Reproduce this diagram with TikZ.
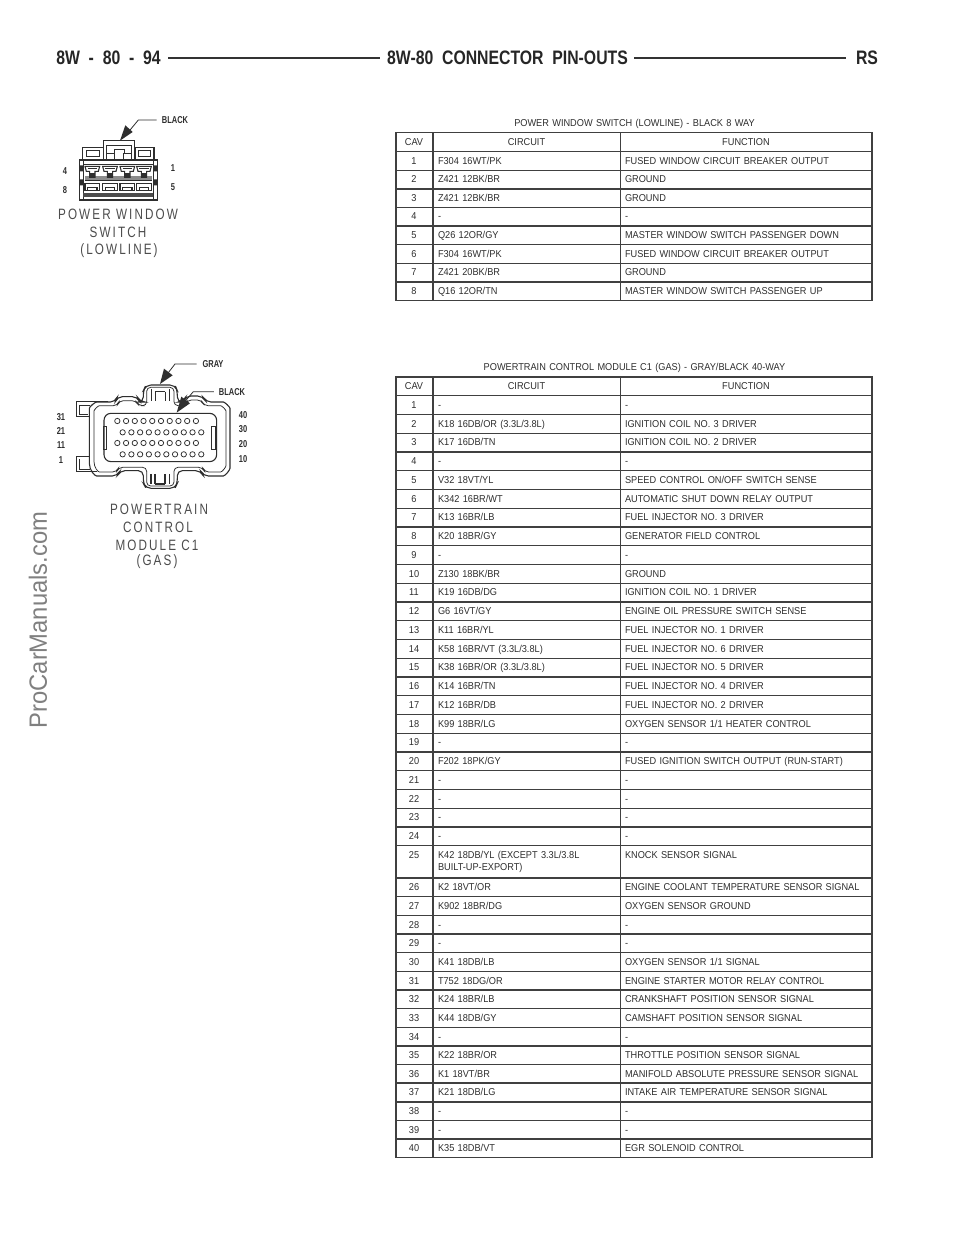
\documentclass[tikz,border=0pt]{standalone}
\usepackage{fontspec}
\setmainfont{Liberation Sans}
\newfontfamily\tabfont[FakeStretch=0.92,WordSpace=1.3]{Liberation Sans}
\newfontfamily\headfont[FakeStretch=0.81,WordSpace=2]{Liberation Sans}
\newfontfamily\wmfont[FakeStretch=0.95]{Liberation Sans}
\newfontfamily\dwgfont[FakeStretch=0.78,LetterSpace=14]{Liberation Sans}
\newfontfamily\calloutfont[FakeStretch=0.75]{Liberation Sans}
\definecolor{ink}{gray}{0.18}
\tikzset{
  every node/.style={inner sep=0pt,outer sep=0pt,text=ink},
  cell/.style={font=\tabfont\fontsize{10}{12}\selectfont,anchor=base west},
  cavcell/.style={font=\tabfont\fontsize{10}{12}\selectfont,anchor=base},
  tabletitle/.style={font=\tabfont\fontsize{10}{12}\selectfont,anchor=base},
  rule/.style={line width=1.4pt,draw=black!75},
  headtext/.style={font=\headfont\bfseries\fontsize{19.5}{22}\selectfont,anchor=base,text=black!85},
  headrule/.style={line width=2.6pt,draw=black!80},
  dwgtitle/.style={font=\dwgfont\fontsize{15}{17}\selectfont,text=black!70},
  pinnum/.style={font=\calloutfont\bfseries\fontsize{10}{12}\selectfont},
  callout/.style={font=\calloutfont\bfseries\fontsize{10}{12}\selectfont},
  dw/.style={line width=0.75pt,draw=ink},
  dwthick/.style={line width=1.1pt,draw=ink},
  leader/.style={line width=0.8pt,draw=ink},
  wedge/.style={fill=ink,draw=none}
}
% table 1 row: cav, circuit, function
\newcommand{\RowA}[3]{%
  \pgfmathsetmacro{\ya}{164.0+(#1-1)*18.6}%
  \node[cavcell] (ac#1) at (414,\ya) {#1};
  \node[cell] (ab#1) at (438,\ya) {#2};
  \node[cell] (af#1) at (625,\ya) {#3};
}
% table 2 row
\newcommand{\RowB}[3]{%
  \pgfmathparse{#1<25 ? 408.4+(#1-1)*18.75 : 890.8+(#1-26)*18.65}\let\yb\pgfmathresult
  \node[cavcell] (bc#1) at (414,\yb) {#1};
  \node[cell] (bb#1) at (438,\yb) {#2};
  \node[cell] (bf#1) at (625,\yb) {#3};
}
\begin{document}
\begin{tikzpicture}[x=1pt,y=-1pt]
\useasboundingbox[fill=white] (0,0) rectangle (960,1242);

% page header
\node[headtext] (h1) at (108.5,64) {8W - 80 - 94};
\node[headtext] (h2) at (507.5,64) {8W-80 CONNECTOR PIN-OUTS};
\node[headtext] (h3) at (867,64) {RS};
\draw[headrule] (168,58) -- (380,58);
\draw[headrule] (634,58) -- (846,58);

% watermark
\node[font=\wmfont\fontsize{25}{27}\selectfont,text=black!50,rotate=90] (wm) at (38,620) {ProCarManuals.com};

% ---------- table 1 ----------
\node[tabletitle] (t1) at (634.5,126.5) {POWER WINDOW SWITCH (LOWLINE) - BLACK 8 WAY};
\draw[rule] (396,132.3) rectangle (872,300.5);
\draw[rule] (433,132.3) -- (433,300.5);
\draw[rule] (620.5,132.3) -- (620.5,300.5);
\draw[rule] (396,151.7) -- (872,151.7);
\foreach \k in {1,...,7} \draw[rule] (396,151.7+\k*18.6) -- (872,151.7+\k*18.6);
\node[cavcell] (ah1) at (414,145) {CAV};
\node[cavcell] (ah2) at (526.5,145) {CIRCUIT};
\node[cavcell] (ah3) at (746,145) {FUNCTION};
\RowA{1}{F304 16WT/PK}{FUSED WINDOW CIRCUIT BREAKER OUTPUT}
\RowA{2}{Z421 12BK/BR}{GROUND}
\RowA{3}{Z421 12BK/BR}{GROUND}
\RowA{4}{-}{-}
\RowA{5}{Q26 12OR/GY}{MASTER WINDOW SWITCH PASSENGER DOWN}
\RowA{6}{F304 16WT/PK}{FUSED WINDOW CIRCUIT BREAKER OUTPUT}
\RowA{7}{Z421 20BK/BR}{GROUND}
\RowA{8}{Q16 12OR/TN}{MASTER WINDOW SWITCH PASSENGER UP}

% ---------- table 2 ----------
\node[tabletitle] (t2) at (634.5,370.5) {POWERTRAIN CONTROL MODULE C1 (GAS) - GRAY/BLACK 40-WAY};
\draw[rule] (396,377) rectangle (872,1157.7);
\draw[rule] (433,377) -- (433,1157.7);
\draw[rule] (620.5,377) -- (620.5,1157.7);
\foreach \k in {0,...,24} \draw[rule] (396,395.7+\k*18.75) -- (872,395.7+\k*18.75);
\foreach \k in {0,...,14} \draw[rule] (396,878+\k*18.65) -- (872,878+\k*18.65);
\node[cavcell] (bh1) at (414,389.5) {CAV};
\node[cavcell] (bh2) at (526.5,389.5) {CIRCUIT};
\node[cavcell] (bh3) at (746,389.5) {FUNCTION};
\RowB{1}{-}{-}
\RowB{2}{K18 16DB/OR (3.3L/3.8L)}{IGNITION COIL NO. 3 DRIVER}
\RowB{3}{K17 16DB/TN}{IGNITION COIL NO. 2 DRIVER}
\RowB{4}{-}{-}
\RowB{5}{V32 18VT/YL}{SPEED CONTROL ON/OFF SWITCH SENSE}
\RowB{6}{K342 16BR/WT}{AUTOMATIC SHUT DOWN RELAY OUTPUT}
\RowB{7}{K13 16BR/LB}{FUEL INJECTOR NO. 3 DRIVER}
\RowB{8}{K20 18BR/GY}{GENERATOR FIELD CONTROL}
\RowB{9}{-}{-}
\RowB{10}{Z130 18BK/BR}{GROUND}
\RowB{11}{K19 16DB/DG}{IGNITION COIL NO. 1 DRIVER}
\RowB{12}{G6 16VT/GY}{ENGINE OIL PRESSURE SWITCH SENSE}
\RowB{13}{K11 16BR/YL}{FUEL INJECTOR NO. 1 DRIVER}
\RowB{14}{K58 16BR/VT (3.3L/3.8L)}{FUEL INJECTOR NO. 6 DRIVER}
\RowB{15}{K38 16BR/OR (3.3L/3.8L)}{FUEL INJECTOR NO. 5 DRIVER}
\RowB{16}{K14 16BR/TN}{FUEL INJECTOR NO. 4 DRIVER}
\RowB{17}{K12 16BR/DB}{FUEL INJECTOR NO. 2 DRIVER}
\RowB{18}{K99 18BR/LG}{OXYGEN SENSOR 1/1 HEATER CONTROL}
\RowB{19}{-}{-}
\RowB{20}{F202 18PK/GY}{FUSED IGNITION SWITCH OUTPUT (RUN-START)}
\RowB{21}{-}{-}
\RowB{22}{-}{-}
\RowB{23}{-}{-}
\RowB{24}{-}{-}
\node[cavcell] (bc25) at (414,858.5) {25};
\node[cell] (bb25a) at (438,858.5) {K42 18DB/YL (EXCEPT 3.3L/3.8L};
\node[cell] (bb25b) at (438,870.5) {BUILT-UP-EXPORT)};
\node[cell] (bf25) at (625,858.5) {KNOCK SENSOR SIGNAL};
\RowB{26}{K2 18VT/OR}{ENGINE COOLANT TEMPERATURE SENSOR SIGNAL}
\RowB{27}{K902 18BR/DG}{OXYGEN SENSOR GROUND}
\RowB{28}{-}{-}
\RowB{29}{-}{-}
\RowB{30}{K41 18DB/LB}{OXYGEN SENSOR 1/1 SIGNAL}
\RowB{31}{T752 18DG/OR}{ENGINE STARTER MOTOR RELAY CONTROL}
\RowB{32}{K24 18BR/LB}{CRANKSHAFT POSITION SENSOR SIGNAL}
\RowB{33}{K44 18DB/GY}{CAMSHAFT POSITION SENSOR SIGNAL}
\RowB{34}{-}{-}
\RowB{35}{K22 18BR/OR}{THROTTLE POSITION SENSOR SIGNAL}
\RowB{36}{K1 18VT/BR}{MANIFOLD ABSOLUTE PRESSURE SENSOR SIGNAL}
\RowB{37}{K21 18DB/LG}{INTAKE AIR TEMPERATURE SENSOR SIGNAL}
\RowB{38}{-}{-}
\RowB{39}{-}{-}
\RowB{40}{K35 18DB/VT}{EGR SOLENOID CONTROL}

% ---------- 8-way connector drawing (coordinates in 3x zoom units) ----------
\begin{scope}[shift={(40,100)},x=0.3333pt,y=-0.3333pt]
  \draw[leader] (350,60) -- (295,60) -- (262,100);
  \fill[wedge] (240,122) -- (256,76) -- (278,96) -- cycle;
  % tab
  \draw[dwthick] (190,182) -- (190,122) -- (283,122) -- (283,182);
  \draw[dw] (200,182) -- (200,135) -- (275,135) -- (275,182);
  \draw[dw] (200,160) -- (222,160) -- (222,148) -- (252,148) -- (252,160) -- (275,160);
  \draw[dw] (222,160) -- (222,180) (250,160) -- (250,180);
  % side windows
  \draw[dwthick] (128,180) -- (128,142) -- (188,142);
  \draw[dw] (138,152) rectangle (178,170);
  \draw[dwthick] (285,180) -- (285,142) -- (342,142) -- (342,180);
  \draw[dw] (296,152) rectangle (332,170);
  % main body
  \draw[dwthick] (118,180) rectangle (352,300);
  \draw[dw] (130,180) -- (130,300) (340,180) -- (340,300);
  \fill[ink] (118,196) rectangle (130,214) (118,238) rectangle (130,256) (340,196) rectangle (352,214) (340,238) rectangle (352,256);
  \draw[dw] (130,192) -- (340,192);
  \fill[black!45] (135,228) rectangle (335,240);
  \draw[dw] (135,242) -- (335,242);
  \fill[black!70] (130,280) rectangle (340,291);
  % pins
  \foreach \px in {135,188,240,290}{
    \draw[dwthick,fill=white] (\px,199) -- (\px+44,199) -- (\px+40,214) -- (\px+30,214) -- (\px+30,232) -- (\px+14,232) -- (\px+14,214) -- (\px+4,214) -- cycle;
    \fill[ink] (\px+14,218) rectangle (\px+30,234);
    \draw[dw] (\px+8,205) -- (\px+36,205);
    \draw[dwthick,fill=white] (\px,250) -- (\px+44,250) -- (\px+44,272) -- (\px+36,272) -- (\px+36,262) -- (\px+8,262) -- (\px+8,272) -- (\px,272) -- cycle;
    \draw[dw] (\px+8,272) -- (\px+36,272);
  }
\end{scope}
\node[callout] (k1) at (175,120) {BLACK};
\node[pinnum] (p4) at (65,171) {4};
\node[pinnum] (p8) at (65,190.5) {8};
\node[pinnum] (p1) at (173,168) {1};
\node[pinnum] (p5) at (173,187) {5};
\node[dwgtitle] (d1) at (118,214) {POWER WINDOW};
\node[dwgtitle] (d2) at (118,232.5) {SWITCH};
\node[dwgtitle] (d3) at (119,251) {(LOWLINE)};

% ---------- 40-way connector drawing (coordinates in 3x zoom units) ----------
\begin{scope}[shift={(40,350)},x=0.3333pt,y=-0.3333pt]
  \draw[leader] (470,42) -- (405,42) -- (385,68);
  \fill[wedge] (360,102) -- (372,56) -- (398,76) -- cycle;
  \draw[leader] (522,125) -- (460,125) -- (437,152);
  \fill[wedge] (410,188) -- (424,140) -- (450,160) -- cycle;
  % left ears
  \draw[dwthick] (205,155) -- (110,155) -- (110,200) -- (150,200);
  \draw[dw] (118,165) -- (150,165) (118,165) -- (118,193) -- (145,193);
  \draw[dwthick] (150,320) -- (110,320) -- (110,365) -- (170,365);
  \draw[dw] (118,328) -- (118,358) -- (150,358);
  % outer shell
  \draw[dwthick,rounded corners=5pt] (148,340) -- (148,190) to[out=90,in=180] (185,156) -- (226,156) -- (232,140) -- (292,140) -- (300,156) -- (310,156) -- (310,122) -- (318,105) -- (405,105) -- (412,122) -- (412,156) -- (430,156) -- (438,138) -- (488,138) -- (498,156) -- (535,156) to[out=0,in=90] (570,190) -- (570,340) to[out=-90,in=0] (535,378) -- (490,378) -- (482,362) -- (412,362) -- (412,400) -- (405,415) -- (318,415) -- (310,400) -- (310,362) -- (240,362) -- (232,378) -- (185,378) to[out=180,in=-90] (148,340);
  % inner shell line
  \draw[dw,rounded corners=4pt] (162,335) -- (162,195) to[out=90,in=180] (190,167) -- (232,167) -- (238,152) -- (288,152) -- (296,167) -- (320,167) -- (320,112) -- (402,112) -- (402,167) -- (436,167) -- (442,150) -- (484,150) -- (492,167) -- (530,167) to[out=0,in=90] (558,195) -- (558,335) to[out=-90,in=0] (530,366) -- (494,366) -- (488,352) -- (402,352) -- (402,408) -- (320,408) -- (320,352) -- (236,352) -- (230,366) -- (190,366) to[out=180,in=-90] (162,335);
  % keys on the tabs
  \draw[dw] (333,118) -- (333,152) (345,125) -- (345,152) (375,125) -- (375,152) (388,118) -- (388,152) (345,125) -- (375,125);
  \draw[dwthick] (333,372) -- (333,402) (345,372) -- (345,402) (375,372) -- (375,402) (388,372) -- (388,402) (345,402) -- (375,402);
  % cavity
  \draw[dwthick,rounded corners=7pt] (192,190) rectangle (530,335);
  \draw[dw] (190,228) rectangle (200,298);
  \draw[dw] (515,228) rectangle (525,298);
  % pins
  \foreach \n in {0,...,9}{
    \draw[dw] (232+\n*26.2,213) circle[radius=8];
    \draw[dw] (248+\n*26.2,247) circle[radius=8];
    \draw[dw] (232+\n*26.2,279) circle[radius=8];
    \draw[dw] (248+\n*26.2,313) circle[radius=8];
  }
\end{scope}
\node[callout] (k2) at (213,364) {GRAY};
\node[callout] (k3) at (232,392) {BLACK};
\node[pinnum] (q31) at (61,417.5) {31};
\node[pinnum] (q21) at (61,431.5) {21};
\node[pinnum] (q11) at (61,445.5) {11};
\node[pinnum] (q1) at (61,460) {1};
\node[pinnum] (q40) at (243,415.5) {40};
\node[pinnum] (q30) at (243,429.5) {30};
\node[pinnum] (q20) at (243,444) {20};
\node[pinnum] (q10) at (243,459) {10};
\node[dwgtitle] (d4) at (159,509) {POWERTRAIN};
\node[dwgtitle] (d5) at (158,527) {CONTROL};
\node[dwgtitle] (d6) at (157,545) {MODULE C1};
\node[dwgtitle] (d7) at (157,562) {(GAS)};
\end{tikzpicture}
\end{document}
